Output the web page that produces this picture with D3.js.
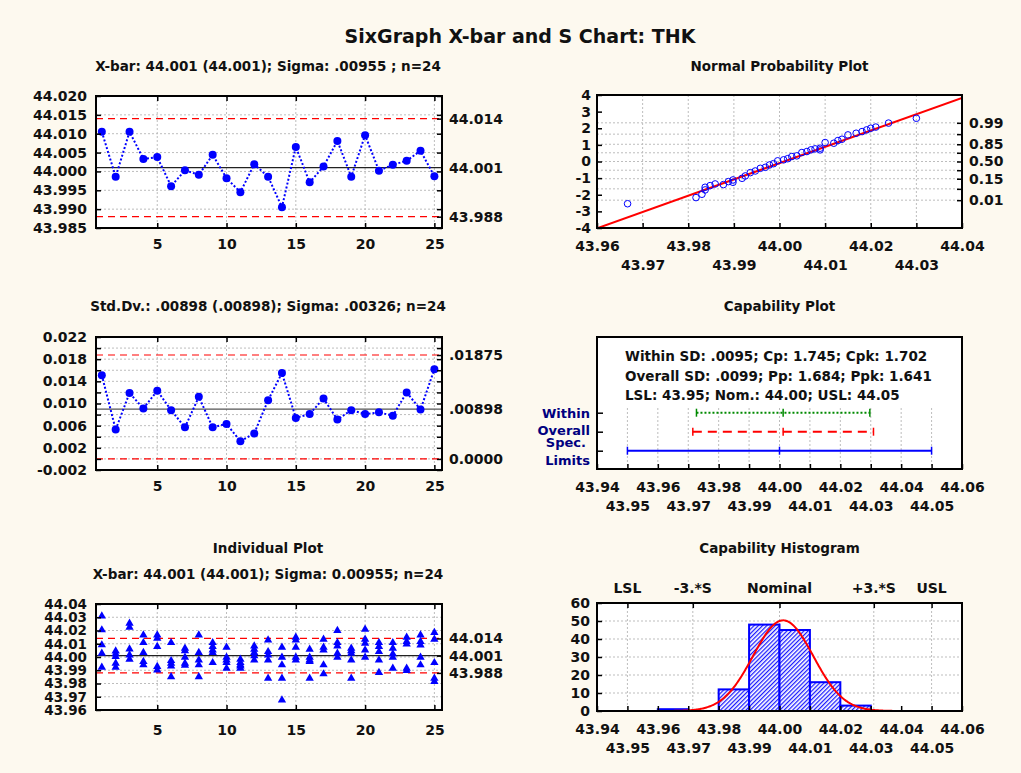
<!DOCTYPE html>
<html><head><meta charset="utf-8">
<script src="https://cdn.jsdelivr.net/npm/d3@7/dist/d3.min.js"></script>
<style>
html,body{margin:0;padding:0;background:#fdf9ef;}
svg{display:block;}
</style></head>
<body>
<svg id="chart" width="1021" height="773"></svg>
<script>
// ---------------- DATA ----------------
const subgroups = [1,2,3,4,5,6,7,8,9,10,11,12,13,14,15,16,17,18,19,20,21,22,23,24,25];
const xbarMeans = [44.0105,43.9986,44.0105,44.0033,44.0038,43.9961,44.0003,43.9991,44.0044,43.9982,43.9945,44.0019,43.9986,43.9905,44.0065,43.9971,44.0013,44.0081,43.9986,44.0096,44.0002,44.0018,44.0028,44.0055,43.9987];
const xbarLimits = {ucl:44.014, cl:44.001, lcl:43.988};
const xbarTicks = [43.985,43.990,43.995,44.000,44.005,44.010,44.015,44.020];
const sdValues = [0.0151,0.0053,0.0119,0.0091,0.0123,0.0088,0.0057,0.0112,0.0057,0.0063,0.0032,0.0046,0.0106,0.0155,0.0074,0.0081,0.0109,0.0071,0.0088,0.0081,0.0084,0.0078,0.0120,0.0089,0.0162];
const sdLimits = {ucl:0.01875, cl:0.00898, lcl:0};
const sdLimitLabels = [".01875",".00898","0.0000"];
const sdTicks = [-0.002,0.002,0.006,0.010,0.014,0.018,0.022];
const sdMinorTicks = [-0.002,0,0.002,0.004,0.006,0.008,0.010,0.012,0.014,0.016,0.018,0.020,0.022];
const subgroupTicks = [5,10,15,20,25];
const indivValues = [
 [44.0309,44.0204,44.0091,44.0028,43.9922],
 [44.0045,44.0023,44.0003,43.9952,43.9922],
 [44.0254,44.0224,44.0060,44.0015,43.9982],
 [44.0166,44.0108,44.0033,43.9965,43.9940],
 [44.0166,44.0141,44.0078,43.9927,43.9902],
 [44.0108,43.9972,43.9952,43.9932,43.9851],
 [44.0066,44.0047,43.9998,43.9952,43.9937],
 [44.0166,44.0033,43.9977,43.9940,43.9851],
 [44.0108,44.0078,44.0053,44.0033,43.9957],
 [44.0073,43.9998,43.9977,43.9957,43.9914],
 [43.9982,43.9957,43.9940,43.9932,43.9914],
 [44.0083,44.0058,44.0033,44.0008,43.9977],
 [44.0128,44.0040,44.0015,43.9977,43.9839],
 [44.0073,43.9998,43.9940,43.9839,43.9675],
 [44.0148,44.0128,44.0073,43.9998,43.9977],
 [44.0058,43.9998,43.9977,43.9965,43.9839],
 [44.0133,44.0073,44.0053,43.9940,43.9872],
 [44.0199,44.0108,44.0083,44.0028,43.9998],
 [44.0066,44.0047,44.0028,43.9977,43.9839],
 [44.0209,44.0133,44.0103,44.0053,43.9998],
 [44.0108,44.0078,44.0040,43.9977,43.9882],
 [44.0108,44.0066,44.0023,43.9998,43.9914],
 [44.0148,44.0116,44.0098,43.9914,43.9897],
 [44.0166,44.0116,44.0090,43.9998,43.9940],
 [44.0184,44.0133,43.9957,43.9839,43.9814]
];
const indivTicks = [43.96,43.97,43.98,43.99,44.00,44.01,44.02,44.03,44.04];
const normX = [43.9667,43.9817,43.9830,43.9837,43.9837,43.9848,43.9859,43.9877,43.9888,43.9898,43.9898,43.9918,43.9925,43.9936,43.9947,43.9958,43.9969,43.9978,43.9987,43.9996,44.0009,44.0018,44.0027,44.0038,44.0049,44.0060,44.0069,44.0078,44.0089,44.0089,44.0100,44.0119,44.0128,44.0137,44.0150,44.0168,44.0181,44.0191,44.0200,44.0211,44.0239,44.0300];
const normZ = [-2.54,-2.17,-1.97,-1.71,-1.55,-1.45,-1.35,-1.39,-1.21,-1.11,-1.25,-1.01,-0.87,-0.67,-0.57,-0.41,-0.35,-0.21,-0.13,0.04,0.10,0.17,0.30,0.34,0.54,0.60,0.70,0.76,0.80,0.70,1.14,1.10,1.26,1.34,1.60,1.70,1.80,1.90,2.00,2.07,2.31,2.60];
const normFit = {mean:44.0010, sd:0.0102};
const normYTicks = [-4,-3,-2,-1,0,1,2,3,4];
const probLabels = ["0.99","0.85","0.50","0.15","0.01"];
const probLabelZ = [2.326,1.036,0,-1.036,-2.326];
const probGridZ = [-2.326,-1.645,-1.036,-0.524,0,0.524,1.036,1.645,2.326];
const normXTicksTop = [43.96,43.98,44.00,44.02,44.04];
const normXTicksBottom = [43.97,43.99,44.01,44.03];
const capXTicksTop = [43.94,43.96,43.98,44.00,44.02,44.04,44.06];
const capXTicksBottom = [43.95,43.97,43.99,44.01,44.03,44.05];
const capText = ["Within SD: .0095; Cp: 1.745; Cpk: 1.702","Overall SD: .0099; Pp: 1.684; Ppk: 1.641","LSL: 43.95; Nom.: 44.00; USL: 44.05"];
const capRowNames = ["Within","Overall","Spec. Limits"];
const capLo = [43.9727,43.9715,43.95];
const capMid = [44.0012,44.0012,44.00];
const capHi = [44.0297,44.0309,44.05];
const histBinStart = [43.96,43.97,43.98,43.99,44.00,44.01,44.02];
const histCounts = [1,0,12,48,45,16,3];
const histBinWidth = 0.01;
const histFit = {mean:44.0012, sd:0.0099, n:125};
const histYTicks = [0,10,20,30,40,50,60];
const histRefLabels = ["LSL","-3.*S","Nominal","+3.*S","USL"];
const histRefValues = [43.95,43.9715,44.00,44.031,44.05];

// ---------------- HELPERS ----------------
const FONT = "'DejaVu Sans', Verdana, sans-serif";
const svg = d3.select("#chart");
const BLUE = "#0000ff", RED = "#ff0000", NAVY = "#000080";

function txt(g,x,y,s,o={}){
  return g.append("text").attr("x",x).attr("y",y).text(s)
    .attr("font-family",FONT).attr("font-weight","bold")
    .attr("font-size",o.size||14).attr("text-anchor",o.anchor||"middle")
    .attr("fill",o.fill||"#111");
}
function axis(g,ax,tr,fs=14){
  const a=g.append("g").attr("transform",tr).call(ax);
  a.select(".domain").remove();
  a.attr("font-family",FONT).attr("font-weight","bold").attr("font-size",fs);
  a.selectAll("line").attr("stroke","#000").attr("stroke-width",1.5);
  a.selectAll("text").attr("fill","#111");
  return a;
}
const gridStyle = s=>s.attr("stroke","#bdbdbd").attr("stroke-width",1).attr("stroke-dasharray","2,2");
const limitStyle = s=>s.attr("stroke",RED).attr("stroke-width",1.2).attr("stroke-dasharray","7,5");
function hLines(g,vals,y,x0,x1,style){
  return g.append("g").selectAll("line").data(vals).join("line")
   .attr("x1",x0).attr("x2",x1).attr("y1",d=>y(d)).attr("y2",d=>y(d)).call(style);
}
function vLines(g,vals,x,y0,y1,style){
  return g.append("g").selectAll("line").data(vals).join("line")
   .attr("x1",d=>x(d)).attr("x2",d=>x(d)).attr("y1",y0).attr("y2",y1).call(style);
}
function bg(b){svg.append("rect").attr("x",b.x0).attr("y",b.y0).attr("width",b.x1-b.x0).attr("height",b.y1-b.y0).attr("fill","#fff");}
function border(b){svg.append("rect").attr("x",b.x0).attr("y",b.y0).attr("width",b.x1-b.x0).attr("height",b.y1-b.y0).attr("fill","none").attr("stroke","#000").attr("stroke-width",2);}
function clip(id,b){svg.append("clipPath").attr("id",id).append("rect").attr("x",b.x0).attr("y",b.y0).attr("width",b.x1-b.x0).attr("height",b.y1-b.y0);}

// title
txt(svg,520,43,"SixGraph X-bar and S Chart: THK",{size:19});

// ---------------- PANEL 1: X-bar ----------------
{
 const b={x0:96,y0:96,x1:442,y1:228};
 const x=d3.scaleLinear([0.58,25.55],[b.x0,b.x1]);
 const y=d3.scaleLinear([43.985,44.020],[b.y1,b.y0]);
 txt(svg,268,70.5,"X-bar: 44.001 (44.001); Sigma: .00955 ; n=24",{size:13.5});
 bg(b);
 hLines(svg,xbarTicks,y,b.x0,b.x1,gridStyle);
 vLines(svg,subgroupTicks,x,b.y0,b.y1,gridStyle);
 hLines(svg,[xbarLimits.ucl,xbarLimits.lcl],y,b.x0,b.x1,limitStyle);
 hLines(svg,[xbarLimits.cl],y,b.x0,b.x1,s=>s.attr("stroke","#222").attr("stroke-width",1.2));
 svg.append("path").datum(xbarMeans).attr("fill","none").attr("stroke",BLUE).attr("stroke-width",2).attr("stroke-dasharray","2,2")
   .attr("d",d3.line().x((d,i)=>x(subgroups[i])).y(d=>y(d)));
 svg.append("g").selectAll("circle").data(xbarMeans).join("circle").attr("cx",(d,i)=>x(subgroups[i])).attr("cy",d=>y(d)).attr("r",4).attr("fill",BLUE);
 axis(svg,d3.axisLeft(y).tickValues(xbarTicks).tickFormat(d=>d.toFixed(3)).tickSize(-5).tickPadding(9),`translate(${b.x0},0)`);
 axis(svg,d3.axisBottom(x).tickValues(subgroupTicks).tickFormat(d=>d).tickSize(-5).tickPadding(11),`translate(0,${b.y1})`);
 axis(svg,d3.axisTop(x).tickValues(subgroupTicks).tickFormat(()=>"").tickSize(-5),`translate(0,${b.y0})`);
 axis(svg,d3.axisRight(y).tickValues(xbarTicks.concat([xbarLimits.ucl,xbarLimits.lcl])).tickFormat(()=>"").tickSize(-5),`translate(${b.x1},0)`);
 axis(svg,d3.axisRight(y).tickValues([xbarLimits.ucl,xbarLimits.cl,xbarLimits.lcl]).tickFormat(d=>d.toFixed(3)).tickSize(0).tickPadding(7),`translate(${b.x1},0)`);
 border(b);
}

// ---------------- PANEL 3: Std Dev ----------------
{
 const b={x0:96,y0:337,x1:442,y1:470};
 const x=d3.scaleLinear([0.58,25.55],[b.x0,b.x1]);
 const y=d3.scaleLinear([-0.002,0.022],[b.y1,b.y0]);
 txt(svg,268,311,"Std.Dv.: .00898 (.00898); Sigma: .00326; n=24",{size:13.5});
 bg(b);
 hLines(svg,sdMinorTicks,y,b.x0,b.x1,gridStyle);
 vLines(svg,subgroupTicks,x,b.y0,b.y1,gridStyle);
 hLines(svg,[sdLimits.ucl,sdLimits.lcl],y,b.x0,b.x1,limitStyle);
 hLines(svg,[sdLimits.cl],y,b.x0,b.x1,s=>s.attr("stroke","#555").attr("stroke-width",1.2));
 svg.append("path").datum(sdValues).attr("fill","none").attr("stroke",BLUE).attr("stroke-width",2).attr("stroke-dasharray","2,2")
   .attr("d",d3.line().x((d,i)=>x(subgroups[i])).y(d=>y(d)));
 svg.append("g").selectAll("circle").data(sdValues).join("circle").attr("cx",(d,i)=>x(subgroups[i])).attr("cy",d=>y(d)).attr("r",4).attr("fill",BLUE);
 axis(svg,d3.axisLeft(y).tickValues(sdMinorTicks).tickFormat(()=>"").tickSize(-5),`translate(${b.x0},0)`);
 axis(svg,d3.axisLeft(y).tickValues(sdTicks).tickFormat(d=>d.toFixed(3)).tickSize(0).tickPadding(9),`translate(${b.x0},0)`);
 axis(svg,d3.axisBottom(x).tickValues(subgroupTicks).tickFormat(d=>d).tickSize(-5).tickPadding(11),`translate(0,${b.y1})`);
 axis(svg,d3.axisTop(x).tickValues(subgroupTicks).tickFormat(()=>"").tickSize(-5),`translate(0,${b.y0})`);
 axis(svg,d3.axisRight(y).tickValues(sdMinorTicks.concat([sdLimits.ucl])).tickFormat(()=>"").tickSize(-5),`translate(${b.x1},0)`);
 axis(svg,d3.axisRight(y).tickValues([sdLimits.ucl,sdLimits.cl,sdLimits.lcl]).tickFormat((d,i)=>sdLimitLabels[i]).tickSize(0).tickPadding(7),`translate(${b.x1},0)`);
 border(b);
}

// ---------------- PANEL 5: Individual ----------------
{
 const b={x0:96,y0:604,x1:442,y1:710};
 const x=d3.scaleLinear([0.58,25.55],[b.x0,b.x1]);
 const y=d3.scaleLinear([43.96,44.04],[b.y1,b.y0]);
 txt(svg,268,553,"Individual Plot",{size:13.5});
 txt(svg,268,579,"X-bar: 44.001 (44.001); Sigma: 0.00955; n=24",{size:13.5});
 bg(b);
 hLines(svg,indivTicks,y,b.x0,b.x1,gridStyle);
 vLines(svg,subgroupTicks,x,b.y0,b.y1,gridStyle);
 hLines(svg,[xbarLimits.ucl,xbarLimits.lcl],y,b.x0,b.x1,limitStyle);
 hLines(svg,[xbarLimits.cl],y,b.x0,b.x1,s=>s.attr("stroke","#222").attr("stroke-width",1.2));
 const pts=[];
 indivValues.forEach((arr,i)=>arr.forEach(v=>pts.push([subgroups[i],v])));
 const tri=d3.symbol().type(d3.symbolTriangle).size(30);
 svg.append("g").selectAll("path").data(pts).join("path").attr("d",tri)
   .attr("transform",d=>`translate(${x(d[0])},${y(d[1])})`).attr("fill",BLUE);
 axis(svg,d3.axisLeft(y).tickValues(indivTicks).tickFormat(d=>d.toFixed(2)).tickSize(-5).tickPadding(9),`translate(${b.x0},0)`,13.5);
 axis(svg,d3.axisBottom(x).tickValues(subgroupTicks).tickFormat(d=>d).tickSize(-5).tickPadding(15),`translate(0,${b.y1})`);
 axis(svg,d3.axisTop(x).tickValues(subgroupTicks).tickFormat(()=>"").tickSize(-5),`translate(0,${b.y0})`);
 axis(svg,d3.axisRight(y).tickValues([xbarLimits.ucl,xbarLimits.cl,xbarLimits.lcl]).tickFormat(d=>d.toFixed(3)).tickSize(-5).tickPadding(7),`translate(${b.x1},0)`);
 border(b);
}

// ---------------- PANEL 2: Normal probability ----------------
{
 const b={x0:597,y0:95,x1:962,y1:228};
 const x=d3.scaleLinear([43.96,44.04],[b.x0,b.x1]);
 const y=d3.scaleLinear([-4,4],[b.y1,b.y0]);
 txt(svg,779.5,71,"Normal Probability Plot",{size:13.5});
 bg(b); clip("clipN",b);
 vLines(svg,normXTicksBottom.concat([44.00,43.98,44.02]),x,b.y0,b.y1,gridStyle);
 hLines(svg,probGridZ,y,b.x0,b.x1,gridStyle);
 const xs=x.domain();
 svg.append("line").attr("clip-path","url(#clipN)")
   .attr("x1",x(xs[0])).attr("y1",y((xs[0]-normFit.mean)/normFit.sd))
   .attr("x2",x(xs[1])).attr("y2",y((xs[1]-normFit.mean)/normFit.sd))
   .attr("stroke",RED).attr("stroke-width",2);
 svg.append("g").selectAll("circle").data(normX).join("circle")
   .attr("cx",d=>x(d)).attr("cy",(d,i)=>y(normZ[i])).attr("r",3.3)
   .attr("fill","none").attr("stroke",BLUE).attr("stroke-width",1);
 axis(svg,d3.axisLeft(y).tickValues(normYTicks).tickFormat(d=>String(d)).tickSize(-5).tickPadding(6),`translate(${b.x0},0)`);
 axis(svg,d3.axisBottom(x).tickValues(normXTicksTop).tickFormat(d=>d.toFixed(2)).tickSize(-5).tickPadding(13),`translate(0,${b.y1})`);
 axis(svg,d3.axisBottom(x).tickValues(normXTicksBottom).tickFormat(d=>d.toFixed(2)).tickSize(-5).tickPadding(32),`translate(0,${b.y1})`);
 axis(svg,d3.axisRight(y).tickValues(probGridZ).tickFormat(()=>"").tickSize(-5),`translate(${b.x1},0)`);
 axis(svg,d3.axisRight(y).tickValues(probLabelZ).tickFormat((d,i)=>probLabels[i]).tickSize(0).tickPadding(7),`translate(${b.x1},0)`);
 border(b);
}

// ---------------- PANEL 4: Capability plot ----------------
{
 const b={x0:597,y0:337,x1:962,y1:469};
 const x=d3.scaleLinear([43.94,44.06],[b.x0,b.x1]);
 const y=d3.scalePoint(capRowNames,[412.7,450.7]);
 txt(svg,779.5,311,"Capability Plot",{size:13.5});
 bg(b);
 vLines(svg,capXTicksBottom.concat([43.96,43.98,44.00,44.02,44.04]),x,408,b.y1,gridStyle);
 capText.forEach((t,i)=>txt(svg,625,[360.5,380.5,399.5][i],t,{size:13.5,anchor:"start"}));
 const styles=[{c:"#008a00",d:"2,2"},{c:RED,d:"9,6"},{c:BLUE,d:null}];
 capRowNames.forEach((n,i)=>{
   const yy=y(n), st=styles[i];
   const l=svg.append("line").attr("x1",x(capLo[i])).attr("x2",x(capHi[i])).attr("y1",yy).attr("y2",yy).attr("stroke",st.c).attr("stroke-width",2);
   if(st.d) l.attr("stroke-dasharray",st.d);
   [capLo[i],capMid[i],capHi[i]].forEach(v=>svg.append("line").attr("x1",x(v)).attr("x2",x(v)).attr("y1",yy-4).attr("y2",yy+4).attr("stroke",st.c).attr("stroke-width",1.5));
 });
 txt(svg,590,418,"Within",{size:13,anchor:"end",fill:NAVY});
 txt(svg,590,435,"Overall",{size:13,anchor:"end",fill:NAVY});
 txt(svg,586,447,"Spec.",{size:13,anchor:"end",fill:NAVY});
 txt(svg,590,465,"Limits",{size:13,anchor:"end",fill:NAVY});
 axis(svg,d3.axisLeft(y).tickSize(-6).tickFormat(()=>""),`translate(${b.x0},0)`);
 axis(svg,d3.axisBottom(x).tickValues(capXTicksTop).tickFormat(d=>d.toFixed(2)).tickSize(-5).tickPadding(13),`translate(0,${b.y1})`);
 axis(svg,d3.axisBottom(x).tickValues(capXTicksBottom).tickFormat(d=>d.toFixed(2)).tickSize(-5).tickPadding(32),`translate(0,${b.y1})`);
 border(b);
}

// ---------------- PANEL 6: Capability histogram ----------------
{
 const b={x0:597,y0:603,x1:962,y1:711};
 const x=d3.scaleLinear([43.94,44.06],[b.x0,b.x1]);
 const y=d3.scaleLinear([0,60],[b.y1,b.y0]);
 txt(svg,779.5,553,"Capability Histogram",{size:13.5});
 histRefLabels.forEach((t,i)=>txt(svg,x(histRefValues[i]),593,t,{size:14}));
 const defs=svg.append("defs");
 const pat=defs.append("pattern").attr("id","hatch").attr("patternUnits","userSpaceOnUse")
   .attr("width",3).attr("height",3).attr("patternTransform","rotate(45)");
 pat.append("rect").attr("width",3).attr("height",3).attr("fill","#fff");
 pat.append("line").attr("x1",0.6).attr("x2",0.6).attr("y1",0).attr("y2",3).attr("stroke","#1a1aff").attr("stroke-width",1.3);
 bg(b); clip("clipH",b);
 hLines(svg,histYTicks.slice(1,-1),y,b.x0,b.x1,gridStyle);
 vLines(svg,histRefValues,x,b.y0,b.y1,gridStyle);
 svg.append("g").selectAll("rect").data(histCounts).join("rect")
   .attr("x",(d,i)=>x(histBinStart[i])).attr("width",(d,i)=>x(histBinStart[i]+histBinWidth)-x(histBinStart[i]))
   .attr("y",d=>y(d)).attr("height",d=>y(0)-y(d))
   .attr("fill","url(#hatch)").attr("stroke",BLUE).attr("stroke-width",2)
   .style("display",d=>d>0?null:"none");
 const k=histFit.n*histBinWidth/(histFit.sd*Math.sqrt(2*Math.PI));
 const cx=d3.range(0,401).map(i=>43.94+i*0.0003);
 svg.append("path").attr("clip-path","url(#clipH)").datum(cx).attr("fill","none").attr("stroke",RED).attr("stroke-width",2)
   .attr("d",d3.line().x(d=>x(d)).y(d=>y(k*Math.exp(-0.5*Math.pow((d-histFit.mean)/histFit.sd,2)))));
 axis(svg,d3.axisLeft(y).tickValues(histYTicks).tickFormat(d=>d).tickSize(-5).tickPadding(7),`translate(${b.x0},0)`);
 axis(svg,d3.axisBottom(x).tickValues(capXTicksTop).tickFormat(d=>d.toFixed(2)).tickSize(-5).tickPadding(13),`translate(0,${b.y1})`);
 axis(svg,d3.axisBottom(x).tickValues(capXTicksBottom).tickFormat(d=>d.toFixed(2)).tickSize(-5).tickPadding(32),`translate(0,${b.y1})`);
 axis(svg,d3.axisTop(x).tickValues(histRefValues).tickFormat(()=>"").tickSize(-5),`translate(0,${b.y0})`);
 border(b);
}
</script>
</body></html>
